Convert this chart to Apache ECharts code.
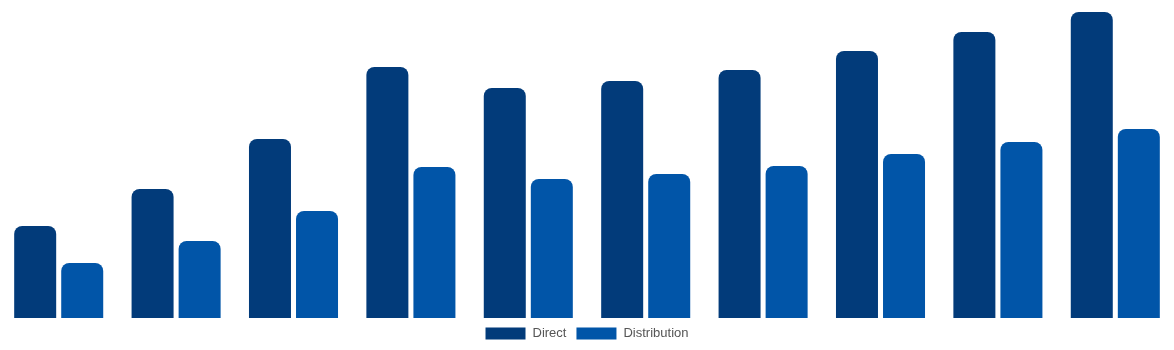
<!DOCTYPE html>
<html>
<head>
<meta charset="utf-8">
<script src="https://cdn.jsdelivr.net/npm/echarts@6/dist/echarts.min.js"></script>
<style>html,body{margin:0;padding:0;background:#fff}#c{width:1174px;height:350px}</style>
</head>
<body>
<div id="c"></div>
<script>
const categories = ['1','2','3','4','5','6','7','8','9','10'];
const directValues = [92, 129, 179, 251, 230, 237, 248, 267, 286, 306];
const distributionValues = [55, 77, 107, 151, 139, 144, 152, 164, 176, 189];
const seriesNames = ['Direct', 'Distribution'];

const chart = echarts.init(document.getElementById('c'), null, {renderer: 'canvas'});
chart.setOption({
  animation: false,
  grid: {left: 0, right: 0, top: 0, bottom: 32, containLabel: false},
  legend: {
    bottom: 5,
    left: 'center',
    icon: 'rect',
    itemWidth: 40,
    itemHeight: 12,
    itemGap: 10,
    textStyle: {color: '#555', fontSize: 13, fontFamily: 'Liberation Sans, Arial, sans-serif', padding: [0, 0, 0, 2]},
    data: seriesNames
  },
  xAxis: {type: 'category', data: categories, show: false},
  yAxis: {type: 'value', min: 0, max: 318, show: false},
  series: [
    {name: seriesNames[0], type: 'bar', data: directValues, barWidth: 42, barGap: '12%',
     itemStyle: {color: '#023b7a', borderRadius: [8, 8, 0, 0]}},
    {name: seriesNames[1], type: 'bar', data: distributionValues, barWidth: 42,
     itemStyle: {color: '#0155a8', borderRadius: [8, 8, 0, 0]}}
  ]
});
</script>
</body>
</html>
